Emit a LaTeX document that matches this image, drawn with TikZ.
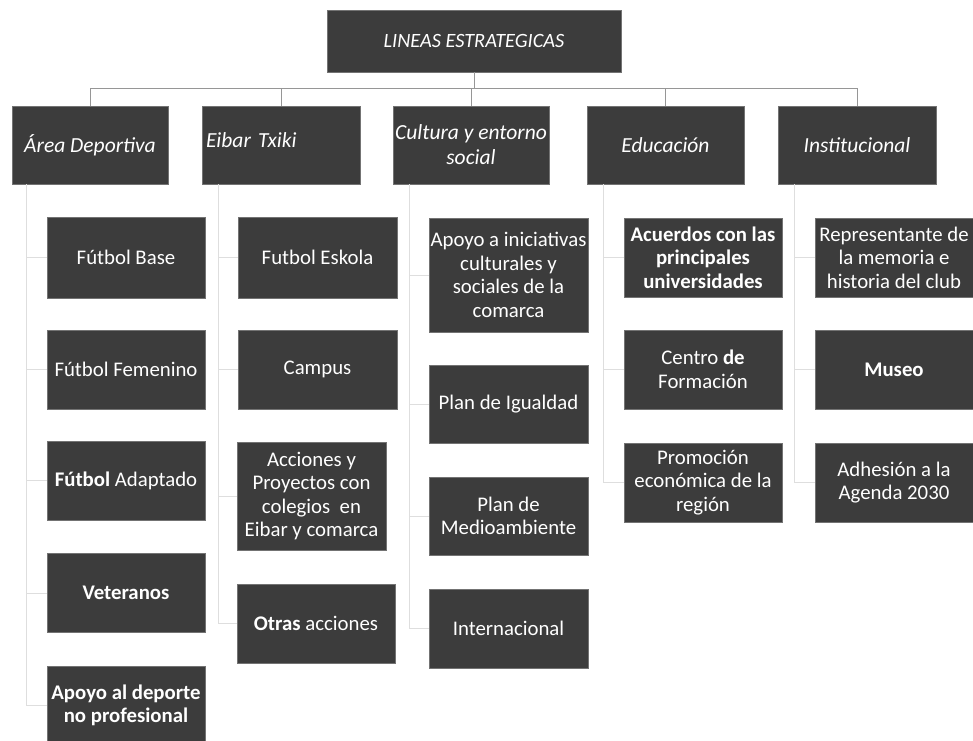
\documentclass[tikz,border=0pt]{standalone}
\usepackage{fontspec}
\setmainfont{Carlito}
\definecolor{boxgray}{RGB}{60,60,60}
\definecolor{linegray}{RGB}{150,150,150}
\definecolor{faintgray}{RGB}{222,222,222}
\tikzset{
  box/.style={fill=boxgray, draw=black!55, line width=0.4pt, text=white, align=center, inner sep=0.5pt,
    font=\fontsize{20.8}{23.5}\selectfont},
  catbox/.style={box, minimum height=78pt, font=\fontsize{21.5}{25}\selectfont\itshape},
  conn/.style={draw=linegray, line width=0.7pt},
  subconn/.style={draw=faintgray, line width=0.5pt}
}
\begin{document}
\begin{tikzpicture}[x=1pt,y=-1pt]
\useasboundingbox[fill=white] (0,0) rectangle (973,740);

% top
\node[box, minimum width=294pt, minimum height=62pt, font=\fontsize{20.3}{23}\selectfont\itshape] (top) at (474,41) {LINEAS ESTRATEGICAS};

% categories
\node[catbox, minimum width=156pt] (cat1) at (90,145) {Área Deportiva};
\node[catbox, minimum width=158pt, text width=150pt, align=left] (cat2) at (281,145) {\raisebox{10pt}{Eibar Txiki}};
\node[catbox, minimum width=156pt] (cat3) at (471,145) {Cultura y entorno\\social};
\node[catbox, minimum width=157pt] (cat4) at (665.5,145) {Educación};
\node[catbox, minimum width=158pt] (cat5) at (857,145) {Institucional};

% column 1
\node[box, minimum width=158pt, minimum height=81pt] (a1) at (126,257.5) {Fútbol Base};
\node[box, minimum width=158pt, minimum height=79pt] (a2) at (126,369.5) {Fútbol Femenino};
\node[box, minimum width=158pt, minimum height=79pt] (a3) at (126,480.5) {\textbf{Fútbol} Adaptado};
\node[box, minimum width=158pt, minimum height=79pt] (a4) at (126,593) {\textbf{Veteranos}};
\node[box, minimum width=158pt, minimum height=79pt] (a5) at (126,705.5) {\textbf{Apoyo al deporte}\\\textbf{no profesional}};

% column 2
\node[box, minimum width=159pt, minimum height=81pt] (b1) at (317.5,257.5) {Futbol Eskola};
\node[box, minimum width=159pt, minimum height=79pt] (b2) at (317.5,369.5) {Campus};
\node[box, minimum width=149pt, minimum height=108pt] (b3) at (311.5,496) {Acciones y\\Proyectos con\\colegios~~en\\Eibar y comarca};
\node[box, minimum width=158pt, minimum height=79pt] (b4) at (316,623.5) {\textbf{Otras} acciones};

% column 3
\node[box, minimum width=159pt, minimum height=114pt] (c1) at (508.5,275) {Apoyo a iniciativas\\culturales y\\sociales de la\\comarca};
\node[box, minimum width=159pt, minimum height=78pt] (c2) at (508.5,404) {Plan de Igualdad};
\node[box, minimum width=159pt, minimum height=78pt] (c3) at (508.5,516) {Plan de\\Medioambiente};
\node[box, minimum width=159pt, minimum height=79pt] (c4) at (508.5,628.5) {Internacional};

% column 4
\node[box, minimum width=158pt, minimum height=79pt] (d1) at (703,257.5) {\textbf{Acuerdos con las}\\\textbf{principales}\\\textbf{universidades}};
\node[box, minimum width=158pt, minimum height=79pt] (d2) at (703,369.5) {Centro \textbf{de}\\Formación};
\node[box, minimum width=158pt, minimum height=79pt] (d3) at (703,482.5) {Promoción\\económica de la\\región};

% column 5
\node[box, minimum width=158pt, minimum height=79pt] (e1) at (894,257.5) {Representante de\\la memoria e\\historia del club};
\node[box, minimum width=158pt, minimum height=79pt] (e2) at (894,369.5) {\textbf{Museo}};
\node[box, minimum width=158pt, minimum height=79pt] (e3) at (894,482.5) {Adhesión a la\\Agenda 2030};

% top connectors
\coordinate (hb) at (474,88);
\draw[conn] (top.south) -- (hb);
\foreach \c in {cat1,cat2,cat3,cat4,cat5} \draw[conn] (hb) -| (\c.north);

% child connectors
\foreach \c in {a1,a2,a3,a4,a5} \draw[subconn] ([xshift=14pt]cat1.south west) |- (\c.west);
\foreach \c in {b1,b2,b3,b4} \draw[subconn] ([xshift=16pt]cat2.south west) |- (\c.west);
\foreach \c in {c1,c2,c3,c4} \draw[subconn] ([xshift=16pt]cat3.south west) |- (\c.west);
\foreach \c in {d1,d2,d3} \draw[subconn] ([xshift=16pt]cat4.south west) |- (\c.west);
\foreach \c in {e1,e2,e3} \draw[subconn] ([xshift=16pt]cat5.south west) |- (\c.west);
\end{tikzpicture}
\end{document}
